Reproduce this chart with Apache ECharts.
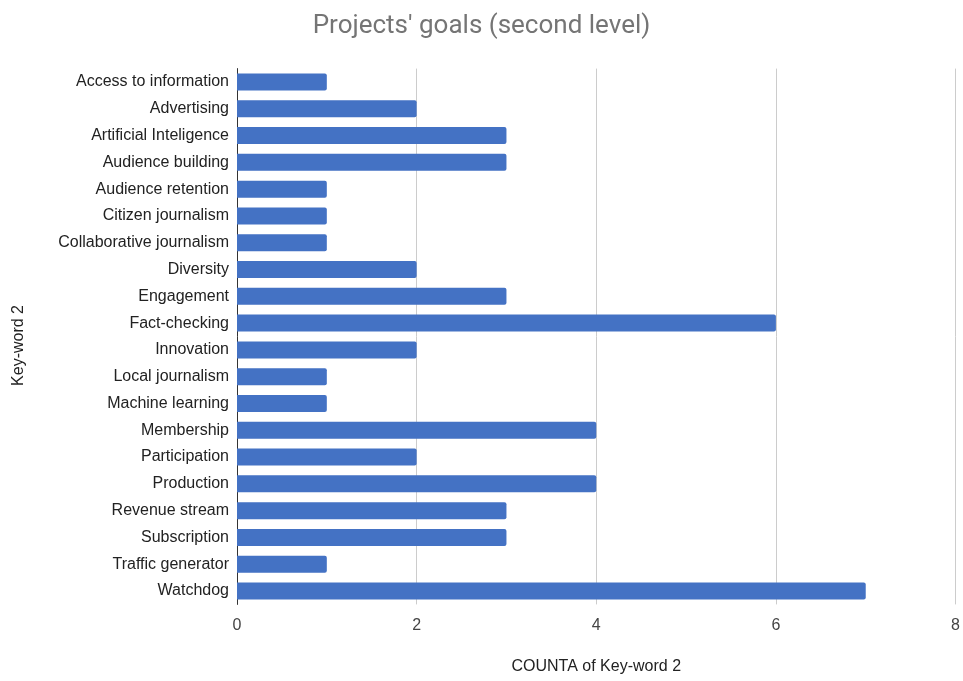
<!DOCTYPE html>
<html>
<head>
<meta charset="utf-8">
<script src="https://cdn.jsdelivr.net/npm/echarts@6/dist/echarts.min.js"></script>
<style>
  html, body { margin: 0; padding: 0; background: #fff; }
  #chart { width: 963px; height: 681px; }
</style>
</head>
<body>
<div id="chart"></div>
<script>
// Second-level goals of the projects and how many times each appears
const categories = [
  'Access to information', 'Advertising', 'Artificial Inteligence', 'Audience building',
  'Audience retention', 'Citizen journalism', 'Collaborative journalism', 'Diversity',
  'Engagement', 'Fact-checking', 'Innovation', 'Local journalism', 'Machine learning',
  'Membership', 'Participation', 'Production', 'Revenue stream', 'Subscription',
  'Traffic generator', 'Watchdog'
];
const counts = [1, 2, 3, 3, 1, 1, 1, 2, 3, 6, 2, 1, 1, 4, 2, 4, 3, 3, 1, 7];
const xTicks = [0, 2, 4, 6, 8];

const labelFont = '"Liberation Sans", Arial, sans-serif';

const chart = echarts.init(document.getElementById('chart'));
chart.setOption({
  animation: false,
  title: {
    text: "Projects' goals (second level)",
    left: 'center',
    top: 8,
    textStyle: { fontFamily: 'Roboto', fontSize: 26, fontWeight: 'normal', color: '#757575' }
  },
  grid: { left: 237, right: 6, top: 68.6, bottom: 76.6 },
  xAxis: {
    type: 'value',
    min: xTicks[0],
    max: xTicks[xTicks.length - 1],
    interval: 2,
    name: 'COUNTA of Key-word 2',
    nameLocation: 'middle',
    nameGap: 54,
    nameTextStyle: { fontFamily: labelFont, fontSize: 16, color: '#222' },
    axisLine: { show: false },
    axisTick: { show: false },
    axisLabel: { fontFamily: labelFont, fontSize: 16, color: '#444', margin: 13 },
    splitLine: { show: true, lineStyle: { color: '#cccccc', width: 1 } }
  },
  yAxis: {
    type: 'category',
    data: categories,
    inverse: true,
    axisLine: { show: true, lineStyle: { color: '#333', width: 1 } },
    axisTick: { show: false },
    axisLabel: { fontFamily: labelFont, fontSize: 16, color: '#222', margin: 8 }
  },
  graphic: [{
    // vertical category-axis title
    type: 'text',
    left: 11,
    top: 305,
    rotation: Math.PI / 2,
    style: {
      text: 'Key-word 2',
      font: '16px "Liberation Sans", Arial, sans-serif',
      fill: '#222'
    }
  }],
  series: [{
    type: 'bar',
    data: counts,
    barWidth: 17,
    itemStyle: { color: '#4472c4', borderRadius: [0, 2, 2, 0] }
  }]
});
</script>
</body>
</html>
